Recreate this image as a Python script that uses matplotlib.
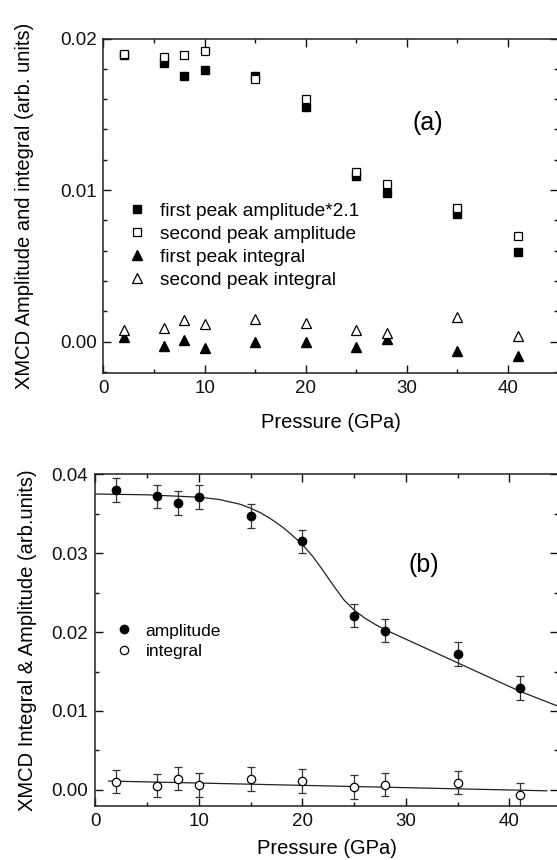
import matplotlib
matplotlib.use('Agg')
import matplotlib.pyplot as plt
from matplotlib.ticker import MultipleLocator, FormatStrFormatter

plt.rcParams['font.family'] = ['Liberation Sans', 'DejaVu Sans']

# ---- panel (a) data
pressure = [2, 6, 8, 10, 15, 20, 25, 28, 35, 41]
first_amp = [0.0189, 0.0184, 0.0175, 0.0179, 0.0175, 0.0155, 0.0109, 0.0098, 0.0084, 0.0059]
second_amp = [0.0190, 0.0188, 0.0189, 0.0192, 0.0173, 0.0160, 0.0112, 0.0104, 0.0088, 0.0070]
first_int = [0.00033, -0.00026, 0.00013, -0.00044, -0.00004, 0.0, -0.00033, 0.00018, -0.00059, -0.00096]
second_int = [0.00079, 0.00092, 0.00143, 0.00114, 0.00149, 0.00123, 0.00079, 0.00059, 0.00160, 0.00037]

# ---- panel (b) data
amplitude = [0.0380, 0.0372, 0.0364, 0.0371, 0.0347, 0.0315, 0.0221, 0.0202, 0.0172, 0.0129]
amp_err = [0.0015] * 10
integral = [0.00106, 0.00055, 0.00144, 0.00059, 0.00135, 0.00114, 0.00038, 0.00068, 0.00093, -0.00068]
int_err = [0.0015] * 10

# fit curves
fit_amp_x = [0, 5, 10, 12, 14, 15, 16, 17, 18, 19, 20, 21, 22, 23, 24, 25, 26, 27, 28, 30, 32, 35, 38, 41, 44.7]
fit_amp_y = [0.0375, 0.0374, 0.0371, 0.0368, 0.0362, 0.0357, 0.0351, 0.0343, 0.0334, 0.0323, 0.0311,
             0.0296, 0.0278, 0.0259, 0.0241, 0.0228, 0.0218, 0.0210, 0.0203, 0.0191, 0.0179, 0.0161,
             0.0143, 0.0125, 0.0106]
fit_int_x = [1.3, 43.6]
fit_int_y = [0.00112, -0.00012]


def style_axes(ax, ymajor, yminor):
    ax.xaxis.set_major_locator(MultipleLocator(10))
    ax.xaxis.set_minor_locator(MultipleLocator(5))
    ax.yaxis.set_major_locator(MultipleLocator(ymajor))
    ax.yaxis.set_minor_locator(MultipleLocator(yminor))
    ax.yaxis.set_major_formatter(FormatStrFormatter('%.2f'))
    ax.tick_params(which='both', direction='in', top=True, right=True, labelsize=13.5, colors='#111111')
    ax.tick_params(which='major', length=6, width=1)
    ax.tick_params(which='minor', length=3, width=1)
    ax.tick_params(axis='x', pad=5)
    ax.tick_params(axis='y', pad=5)
    for s in ax.spines.values():
        s.set_linewidth(1.1)
        s.set_color('#222222')


fig = plt.figure(figsize=(5.57, 8.6), dpi=100)

# ---------------- (a)
ax1 = fig.add_axes([0.1858, 0.5657, 0.8152, 0.3895])
ax1.plot(pressure, first_amp, 's', color='black', ms=5.2, label='first peak amplitude*2.1')
ax1.plot(pressure, second_amp, 's', mfc='white', mec='black', mew=0.9, ms=5.2, label='second peak amplitude')
ax1.plot(pressure, first_int, '^', color='black', ms=6.5, label='first peak integral')
ax1.plot(pressure, second_int, '^', mfc='white', mec='black', mew=0.9, ms=6.5, label='second peak integral')
ax1.set_xlim(0, 44.9)
ax1.set_ylim(-0.0021, 0.02)
style_axes(ax1, 0.01, 0.002)
ax1.set_xlabel('Pressure (GPa)', fontsize=14.5)
ax1.xaxis.set_label_coords(0.5, -0.118)
ax1.set_ylabel('XMCD Amplitude and integral (arb. units)', fontsize=14.5)
ax1.yaxis.set_label_coords(-0.153, 0.5)
ax1.text(32.1, 0.0144, '(a)', fontsize=18, ha='center', va='center')
ax1.legend(loc='upper left', bbox_to_anchor=(2.33, 0.0092), bbox_transform=ax1.transData,
           frameon=False, fontsize=13.8, handlelength=1.0, handletextpad=0.73,
           labelspacing=0.29, borderpad=0, borderaxespad=0)

# ---------------- (b)
ax2 = fig.add_axes([0.171, 0.0632, 0.831, 0.3853])
ax2.plot(fit_amp_x, fit_amp_y, '-', color='#222222', lw=0.9)
ax2.plot(fit_int_x, fit_int_y, '-', color='#222222', lw=0.9)
ax2.errorbar(pressure, amplitude, yerr=amp_err, fmt='o', color='black', ms=6,
             ecolor='#333333', elinewidth=0.9, capsize=2.6, capthick=0.9, label='amplitude')
ax2.errorbar(pressure, integral, yerr=int_err, fmt='o', mfc='white', mec='black', mew=0.9, ms=6,
             ecolor='#333333', elinewidth=0.9, capsize=2.6, capthick=0.9, label='integral')
ax2.set_xlim(0, 44.7)
ax2.set_ylim(-0.002, 0.04)
style_axes(ax2, 0.01, 0.005)
ax2.set_xlabel('Pressure (GPa)', fontsize=14.5)
ax2.xaxis.set_label_coords(0.5, -0.1)
ax2.set_ylabel('XMCD Integral & Amplitude (arb.units)', fontsize=14.5)
ax2.yaxis.set_label_coords(-0.126, 0.5)
ax2.text(31.7, 0.0285, '(b)', fontsize=18, ha='center', va='center')
handles, labels = ax2.get_legend_handles_labels()
handles = [h[0] for h in handles]
ax2.legend(handles, labels, loc='upper left', bbox_to_anchor=(1.97, 0.0211), bbox_transform=ax2.transData,
           frameon=False, fontsize=12.5, handlelength=1.0, handletextpad=0.73,
           labelspacing=0.31, borderpad=0, borderaxespad=0)

fig.savefig('out.png', dpi=100)
